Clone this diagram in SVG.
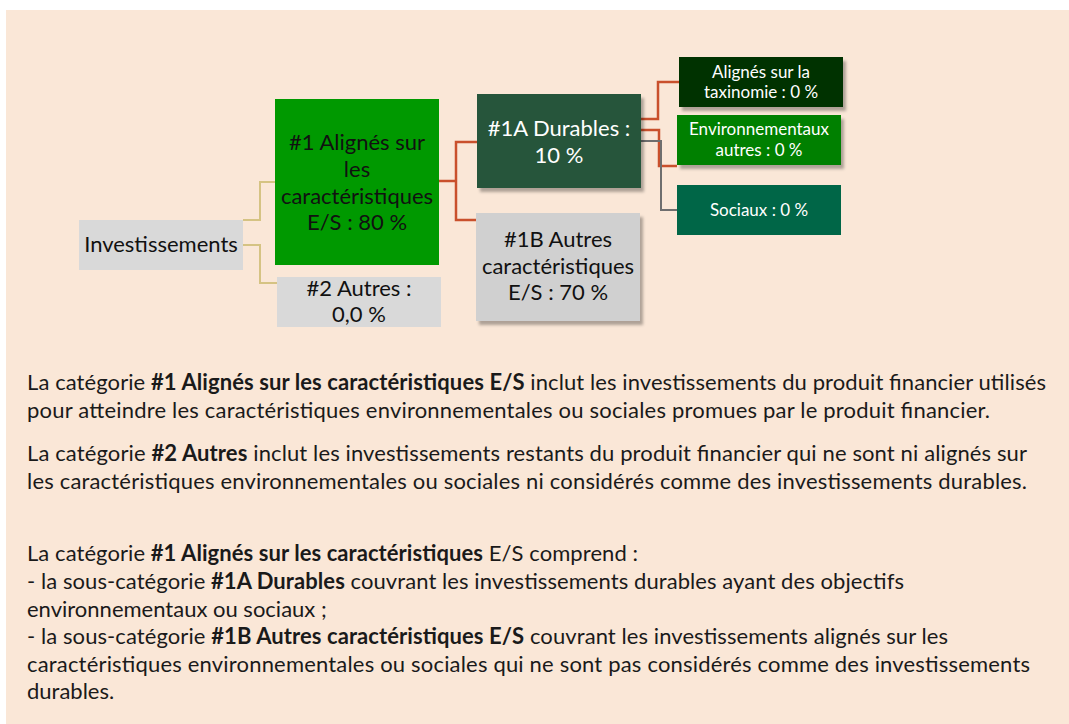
<svg xmlns="http://www.w3.org/2000/svg" width="1069" height="724" viewBox="0 0 1069 724">
<defs>
<filter id="sh" x="-10%" y="-10%" width="130%" height="140%">
<feDropShadow dx="3" dy="4" stdDeviation="1.8" flood-color="#000" flood-opacity="0.3"/>
</filter>
<style>
text{font-family:Lato,"Open Sans","Liberation Sans",sans-serif;}
.big{font-size:22px;fill:#111;text-anchor:middle;}
.bigw{font-size:22px;fill:#fff;text-anchor:middle;}
.sm{font-size:17px;fill:#fff;text-anchor:middle;}
.p{font-size:22px;fill:#1a1a1a;}
.b{font-weight:bold;}
.tan{fill:none;stroke:#D5C383;stroke-width:2;}
.red{fill:none;stroke:#C9502C;stroke-width:2.5;}
.gry{fill:none;stroke:#6E6E6E;stroke-width:2;}
</style>
</defs>
<rect x="6" y="10" width="1063" height="714" fill="#FAE7D7"/>
<g id="connectors">
<path class="tan" d="M243,220 H260 V182 H275"/>
<path class="tan" d="M243,245 H260 V283 H277"/>
<path class="red" d="M439,181 H456 M477,142 H456 V220 H476"/>
<path class="red" d="M641,119 H658 V82 H679"/>
<path class="red" d="M641,130 H659 V166 H677"/>
<path class="gry" d="M641,141 H661 V210 H677"/>
</g>
<g id="investissements">
<rect x="79" y="220" width="164" height="50" fill="#D9D9D9"/>
<text class="big" x="161" y="252">Investissements</text>
</g>
<g id="n1">
<rect x="275" y="99" width="164" height="166" fill="#009900"/>
<text class="big" x="357" y="150">#1 Alignés sur</text>
<text class="big" x="357" y="177">les</text>
<text class="big" x="357" y="204">caractéristiques</text>
<text class="big" x="357" y="230">E/S : 80 %</text>
</g>
<g id="n2">
<rect x="277" y="277" width="164" height="50" fill="#D9D9D9"/>
<text class="big" x="359" y="296">#2 Autres :</text>
<text class="big" x="359" y="322">0,0 %</text>
</g>
<g id="n1a">
<rect x="477" y="94" width="164" height="94" fill="#25553A" filter="url(#sh)"/>
<text class="bigw" x="559" y="136">#1A Durables :</text>
<text class="bigw" x="559" y="163">10 %</text>
</g>
<g id="n1b">
<rect x="476" y="213" width="164" height="108" fill="#D0D0D0" filter="url(#sh)"/>
<text class="big" x="558" y="247">#1B Autres</text>
<text class="big" x="558" y="274">caractéristiques</text>
<text class="big" x="558" y="300">E/S : 70 %</text>
</g>
<g id="taxinomie">
<rect x="679" y="57" width="164" height="50" fill="#003300" filter="url(#sh)"/>
<text class="sm" x="761" y="78">Alignés sur la</text>
<text class="sm" x="761" y="98">taxinomie : 0 %</text>
</g>
<g id="environnementaux">
<rect x="677" y="115" width="164" height="50" fill="#008000" filter="url(#sh)"/>
<text class="sm" x="759" y="135">Environnementaux</text>
<text class="sm" x="759" y="156">autres : 0 %</text>
</g>
<g id="sociaux">
<rect x="677" y="185" width="164" height="50" fill="#006647"/>
<text class="sm" x="759" y="216">Sociaux : 0 %</text>
</g>
<g id="texte">
<text class="p" x="27" y="390" textLength="1019" lengthAdjust="spacing">La catégorie <tspan class="b">#1 Alignés sur les caractéristiques E/S</tspan> inclut les investissements du produit financier utilisés</text>
<text class="p" x="27" y="418" textLength="963" lengthAdjust="spacing">pour atteindre les caractéristiques environnementales ou sociales promues par le produit financier.</text>
<text class="p" x="27" y="461" textLength="1000" lengthAdjust="spacing">La catégorie <tspan class="b">#2 Autres</tspan> inclut les investissements restants du produit financier qui ne sont ni alignés sur</text>
<text class="p" x="27" y="489" textLength="1000" lengthAdjust="spacing">les caractéristiques environnementales ou sociales ni considérés comme des investissements durables.</text>
<text class="p" x="27" y="561" textLength="611" lengthAdjust="spacing">La catégorie <tspan class="b">#1 Alignés sur les caractéristiques</tspan> E/S comprend :</text>
<text class="p" x="27" y="589" textLength="877" lengthAdjust="spacing">- la sous-catégorie <tspan class="b">#1A Durables</tspan> couvrant les investissements durables ayant des objectifs</text>
<text class="p" x="27" y="617">environnementaux ou sociaux ;</text>
<text class="p" x="27" y="644" textLength="921" lengthAdjust="spacing">- la sous-catégorie <tspan class="b">#1B Autres caractéristiques E/S</tspan> couvrant les investissements alignés sur les</text>
<text class="p" x="27" y="672" textLength="1003" lengthAdjust="spacing">caractéristiques environnementales ou sociales qui ne sont pas considérés comme des investissements</text>
<text class="p" x="27" y="699">durables.</text>
</g>
</svg>
